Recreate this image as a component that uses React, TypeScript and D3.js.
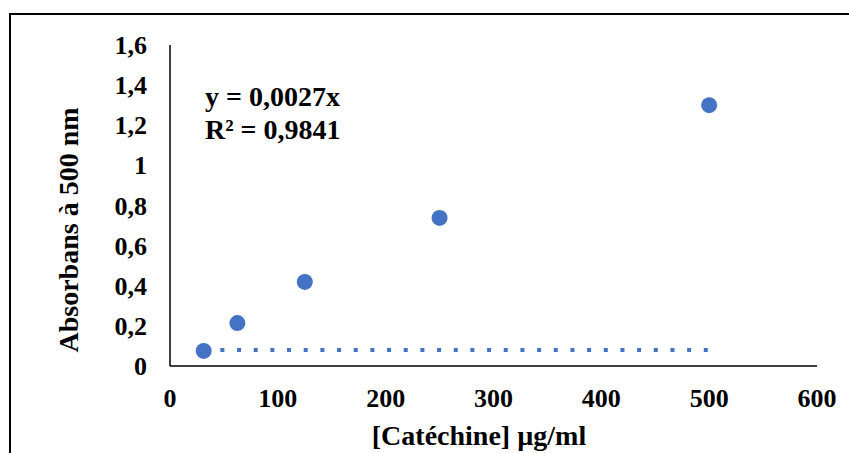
import React, { useRef, useEffect } from 'react';
import * as d3 from 'd3';

// catechin calibration points
const concentrations = [31.25, 62.5, 125, 250, 500];
const absorbances = [0.075, 0.214, 0.419, 0.738, 1.3];

// trendline as drawn in the source (flat dotted line)
const trendX = [31.25, 500];
const trendY = [0.08, 0.08];

const xTicks = [0, 100, 200, 300, 400, 500, 600];
const yTicks = [0, 0.2, 0.4, 0.6, 0.8, 1, 1.2, 1.4, 1.6];
const equationLines = ['y = 0,0027x', 'R² = 0,9841'];

const fmt = (v: number) => String(+v.toFixed(1)).replace('.', ',');

const App = () => {
  const ref = useRef<SVGSVGElement>(null);

  useEffect(() => {
    const svg = d3.select(ref.current);
    svg.selectAll('*').remove();
    const font = '"Liberation Serif", "Times New Roman", serif';

    const x = d3.scaleLinear().domain([0, 600]).range([170, 817]);
    const y = d3.scaleLinear().domain([0, 1.6]).range([366, 45]);

    // outer chart border (right/bottom fall off the picture)
    svg
      .append('rect')
      .attr('x', 10)
      .attr('y', 14)
      .attr('width', 860)
      .attr('height', 460)
      .attr('fill', 'none')
      .attr('stroke', '#000')
      .attr('stroke-width', 2);

    // axis lines, no ticks
    svg
      .append('line')
      .attr('x1', x(0))
      .attr('x2', x(0))
      .attr('y1', y(1.6))
      .attr('y2', y(0))
      .attr('stroke', '#000')
      .attr('stroke-width', 1.5);
    svg
      .append('line')
      .attr('x1', x(0))
      .attr('x2', x(600))
      .attr('y1', y(0))
      .attr('y2', y(0))
      .attr('stroke', '#000')
      .attr('stroke-width', 1.5);

    svg
      .append('g')
      .selectAll('text')
      .data(yTicks)
      .enter()
      .append('text')
      .attr('x', 147)
      .attr('y', (d) => y(d))
      .attr('dy', '0.35em')
      .attr('text-anchor', 'end')
      .attr('font-family', font)
      .attr('font-weight', 'bold')
      .attr('font-size', 26)
      .text((d) => fmt(d));

    svg
      .append('g')
      .selectAll('text')
      .data(xTicks)
      .enter()
      .append('text')
      .attr('x', (d) => x(d))
      .attr('y', 407)
      .attr('text-anchor', 'middle')
      .attr('font-family', font)
      .attr('font-weight', 'bold')
      .attr('font-size', 26)
      .text((d) => String(d));

    // dotted trendline
    const line = d3
      .line<number>()
      .x((d) => x(d))
      .y((_, i) => y(trendY[i]));
    svg
      .append('path')
      .datum(trendX)
      .attr('d', line)
      .attr('fill', 'none')
      .attr('stroke', '#4472C4')
      .attr('stroke-width', 4)
      .attr('stroke-dasharray', '4 12.67');

    svg
      .append('g')
      .selectAll('circle')
      .data(concentrations)
      .enter()
      .append('circle')
      .attr('cx', (d) => x(d))
      .attr('cy', (_, i) => y(absorbances[i]))
      .attr('r', 8)
      .attr('fill', '#4472C4');

    svg
      .append('g')
      .selectAll('text')
      .data(equationLines)
      .enter()
      .append('text')
      .attr('x', 205)
      .attr('y', (_, i) => 106 + i * 33)
      .attr('font-family', font)
      .attr('font-weight', 'bold')
      .attr('font-size', 28)
      .text((d) => d);

    svg
      .append('text')
      .attr('transform', 'translate(78,230) rotate(-90)')
      .attr('text-anchor', 'middle')
      .attr('font-family', font)
      .attr('font-weight', 'bold')
      .attr('font-size', 28)
      .text('Absorbans à 500 nm');

    svg
      .append('text')
      .attr('x', 479)
      .attr('y', 445)
      .attr('text-anchor', 'middle')
      .attr('font-family', font)
      .attr('font-weight', 'bold')
      .attr('font-size', 28)
      .text('[Catéchine] µg/ml');
  }, []);

  return (
    <svg
      ref={ref}
      width="849"
      height="453"
      style={{ position: 'absolute', left: 0, top: 0, background: '#fff' }}
    />
  );
};

export default App;
